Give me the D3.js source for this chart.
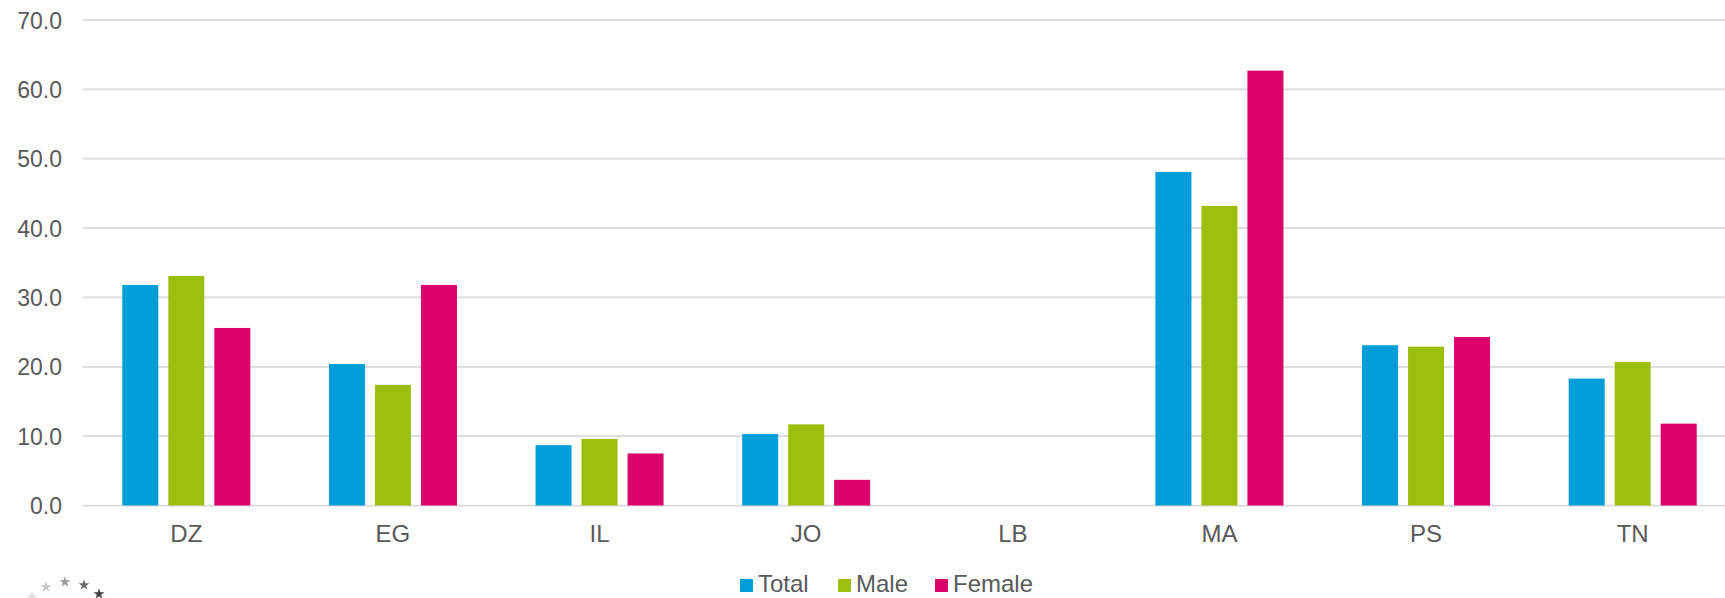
<!DOCTYPE html>
<html>
<head>
<meta charset="utf-8">
<script src="https://cdn.jsdelivr.net/npm/d3@7"></script>
<style>
  html, body { margin: 0; padding: 0; background: #fff; overflow: hidden; }
  text { font-family: "Liberation Sans", Arial, sans-serif; fill: #595959; }
</style>
</head>
<body>
<div id="chart"></div>
<script>
// chart values
var countries = ["DZ", "EG", "IL", "JO", "LB", "MA", "PS", "TN"];
var series = ["Total", "Male", "Female"];
var colors = ["#009ed8", "#9bbe0f", "#dc006c"];
var totalValues = [31.8, 20.4, 8.7, 10.3, null, 48.1, 23.1, 18.3];
var maleValues = [33.1, 17.4, 9.6, 11.7, null, 43.2, 22.9, 20.7];
var femaleValues = [25.6, 31.8, 7.5, 3.7, null, 62.7, 24.3, 11.8];
var yTicks = [0, 10, 20, 30, 40, 50, 60, 70];

var width = 1725, height = 598;
var plot = {left: 83, right: 1736, top: 20, bottom: 505.5};

var rows = countries.map(function(c, i) {
  return {country: c, values: [totalValues[i], maleValues[i], femaleValues[i]]};
});

var svg = d3.select("#chart")
  .append("svg")
  .attr("width", width)
  .attr("height", height);

var x0 = d3.scaleBand()
  .domain(countries)
  .range([plot.left, plot.right]);

var x1 = d3.scaleBand()
  .domain(series)
  .range([39.3, x0.bandwidth() - 39.3])
  .paddingInner(0.217);

var y = d3.scaleLinear()
  .domain([0, 70])
  .range([plot.bottom, plot.top]);

// gridlines
svg.append("g")
  .selectAll("line").data(yTicks)
  .enter().append("line")
  .attr("x1", plot.left)
  .attr("x2", width)
  .attr("y1", function(d) { return y(d); })
  .attr("y2", function(d) { return y(d); })
  .style("stroke", "#d9d9d9")
  .style("stroke-width", 1.75);

// y axis labels
var yAxis = d3.axisLeft(y)
  .tickValues(yTicks)
  .tickFormat(d3.format(".1f"))
  .tickSize(0)
  .tickPadding(0);

var yg = svg.append("g")
  .attr("transform", "translate(62,0)")
  .call(yAxis);
yg.select(".domain").remove();
yg.selectAll("text")
  .attr("dy", "0.35em")
  .style("font-size", "23px")
  .style("fill", "#595959")
  .style("font-family", "'Liberation Sans', Arial, sans-serif");

// bars
var groups = svg.append("g")
  .selectAll("g").data(rows)
  .enter().append("g")
  .attr("transform", function(d) { return "translate(" + x0(d.country) + ",0)"; });

groups.selectAll("rect")
  .data(function(d) {
    return series.map(function(s, i) { return {key: s, value: d.values[i], color: colors[i]}; });
  })
  .enter().filter(function(d) { return d.value != null; })
  .append("rect")
  .attr("x", function(d) { return x1(d.key); })
  .attr("width", x1.bandwidth())
  .attr("y", function(d) { return y(d.value); })
  .attr("height", function(d) { return y(0) - y(d.value); })
  .style("fill", function(d) { return d.color; });

// x axis labels
var xAxis = d3.axisBottom(x0).tickSize(0).tickPadding(0);
var xg = svg.append("g")
  .attr("transform", "translate(0,542)")
  .call(xAxis);
xg.select(".domain").remove();
xg.selectAll("text")
  .attr("dy", "0")
  .style("font-size", "24px")
  .style("fill", "#595959")
  .style("font-family", "'Liberation Sans', Arial, sans-serif");

// legend
var legendX = [740, 838, 935];
var legend = svg.append("g")
  .selectAll("g").data(series)
  .enter().append("g")
  .attr("transform", function(d, i) { return "translate(" + legendX[i] + ",579)"; });

legend.append("rect")
  .attr("width", 13)
  .attr("height", 13)
  .style("fill", function(d, i) { return colors[i]; });

legend.append("text")
  .attr("x", 18)
  .attr("y", 12.5)
  .style("font-size", "24px")
  .text(function(d) { return d; });

// partial logo stars at the bottom left
var stars = [[32, 597, "#dddddd"], [46, 587, "#c4c4c4"], [65, 582, "#9a9a9a"], [84, 585, "#6d6d6d"], [99, 594, "#3f3f3f"]];
svg.append("g")
  .selectAll("path").data(stars)
  .enter().append("path")
  .attr("d", d3.symbol(d3.symbolStar, 38))
  .attr("transform", function(d) { return "translate(" + d[0] + "," + d[1] + ")"; })
  .style("fill", function(d) { return d[2]; });
</script>
</body>
</html>
